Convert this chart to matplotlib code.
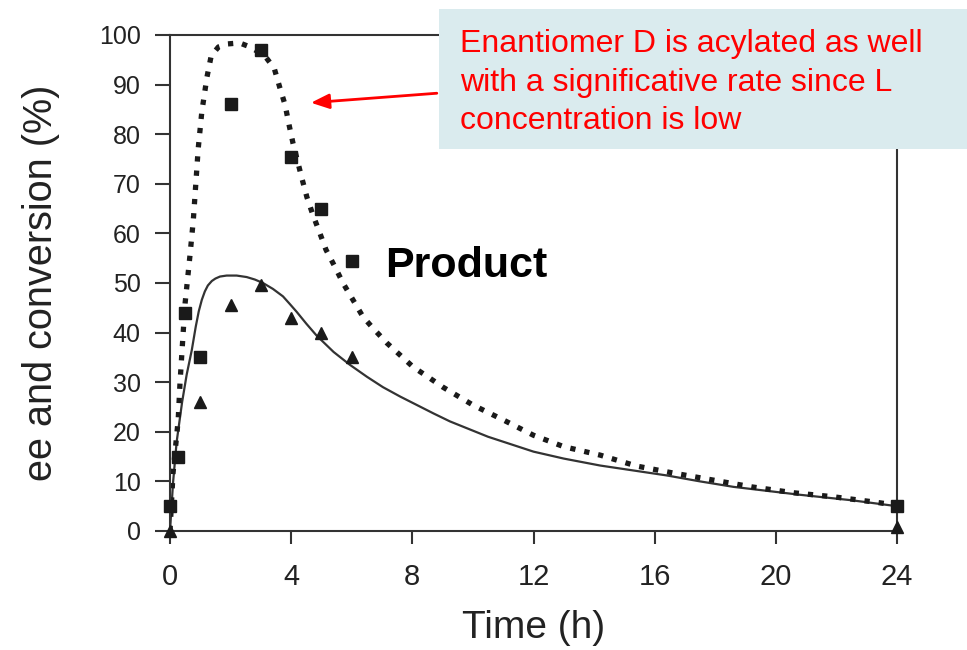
## Kinetic resolution plot: ee and conversion vs time
import numpy as np
import matplotlib
matplotlib.use('Agg')
import matplotlib.pyplot as plt
from matplotlib.patches import Rectangle

plt.rcParams['font.family'] = ['Liberation Sans', 'DejaVu Sans']

t_ee = [0, 0.25, 0.5, 1, 2, 3, 4, 5, 6, 24]
ee = [5, 15, 44, 35, 86, 97, 75.5, 65, 54.5, 5]
t_conv = [0, 1, 2, 3, 4, 5, 6, 24]
conv = [0, 26, 45.5, 49.5, 43, 40, 35, 0.8]

## Model curves
t_model_ee = [0, 0.1, 0.27, 0.33, 0.44, 0.5, 0.66, 0.77, 0.93, 1.05, 1.22, 1.36, 1.6, 1.9,
              2.3, 2.64, 3.13, 3.44, 3.63, 3.8, 3.93, 4.06, 4.35, 4.52, 4.72, 4.95, 5.15,
              5.45, 5.71, 6.04, 6.37, 6.7, 7.16, 7.59, 8.02, 8.58, 9.01, 10, 11, 12, 13,
              14.2, 15.4, 16.6, 17.9, 19.2, 20.6, 21.9, 23.3, 24]
model_ee = [0, 11.7, 22.4, 29.8, 40.5, 46, 55.6, 62.7, 77, 84.5, 91.5, 95.8, 97.6, 98.2,
            98.4, 97.6, 95.8, 93.3, 89.3, 85.9, 81.9, 78.2, 71.2, 67.3, 63.7, 60, 56.7,
            53.2, 50, 46.6, 43.2, 40.9, 37.9, 35.5, 33.1, 30.8, 29, 25.4, 22.4, 19.3, 17,
            15.3, 13.1, 11.7, 10.3, 8.9, 7.7, 6.9, 5.8, 5.2]
t_model_conv = [0, 0.1, 0.22, 0.4, 0.55, 0.72, 0.85, 0.95, 1.05, 1.15, 1.25, 1.38, 1.5,
                1.65, 1.87, 2.2, 2.53, 2.8, 3.07, 3.4, 3.73, 3.95, 4.18, 4.5, 4.84, 5.4,
                5.94, 6.5, 7.03, 7.6, 8.15, 8.7, 9.24, 10.5, 12, 13, 14.2, 15.3, 16.4,
                17.5, 18.6, 19.7, 20.8, 22.5, 24]
model_conv = [0, 9.7, 18, 26, 31.5, 36.5, 41.2, 44.3, 46.6, 48.3, 49.5, 50.4, 50.9,
              51.3, 51.5, 51.5, 51.2, 50.7, 50.0, 48.8, 47.3, 45.8, 44.2, 41.8, 39.4,
              36.1, 33.5, 31.1, 29, 27.1, 25.4, 23.7, 22.1, 19, 16, 14.6, 13.2, 12.2,
              11.2, 10.0, 8.9, 8.1, 7.3, 6.2, 5]

fig = plt.figure(figsize=(9.67, 6.5), dpi=100)
ax = fig.add_axes([170/967, 1 - 531/650, (897 - 170)/967, (531 - 35)/650])

ax.plot(t_model_conv, model_conv, '-', color='#333333', lw=1.6, zorder=2)
ax.plot(t_model_ee, model_ee, color='#1a1a1a', lw=3.8, linestyle=(0, (1, 1.7)), zorder=2)
ax.plot(t_ee, ee, 's', color='#1a1a1a', ms=8.5, clip_on=False, zorder=3)
ax.plot(t_conv, conv, '^', color='#1a1a1a', ms=9, clip_on=False, zorder=3)

ax.set_xlim(0, 24)
ax.set_ylim(0, 100)
ax.set_xticks(range(0, 25, 4))
ax.set_yticks(range(0, 101, 10))
for s in ax.spines.values():
    s.set_color('#333333')
    s.set_linewidth(1.5)
ax.tick_params(axis='y', direction='out', length=11, width=1.5, color='#333333',
               labelsize=18, labelcolor='#222222', pad=10)
ax.tick_params(axis='x', direction='out', length=9, width=1.5, color='#333333',
               labelsize=21, labelcolor='#222222', pad=14)
ax.set_xlabel('Time (h)', fontsize=28, color='#222222', labelpad=14)
ax.set_ylabel('ee and conversion (%)', fontsize=28.5, color='#222222', labelpad=28)

ax.text(7.1, 53.5, 'Product', fontsize=31, fontweight='bold', color='black', va='center')

## Callout box (slide overlay)
fig.patches.append(Rectangle((439/967, 1 - 149/650), (967 - 439)/967, 140/650,
                             transform=fig.transFigure, facecolor='#daebee',
                             edgecolor='none', zorder=5))
fig.text(460/967, 1 - 29/650,
         'Enantiomer D is acylated as well\nwith a significative rate since L\nconcentration is low',
         fontsize=23, color='#ff0000', va='top', ha='left', linespacing=1.38, zorder=6)
ax.annotate('', xy=(4.56, 86.3), xytext=(8.9, 88.3), xycoords='data',
            arrowprops=dict(arrowstyle='-|>,head_length=1.1,head_width=0.45',
                            color='#ff0000', lw=2), annotation_clip=False, zorder=6)

fig.savefig('out.png', dpi=100)
